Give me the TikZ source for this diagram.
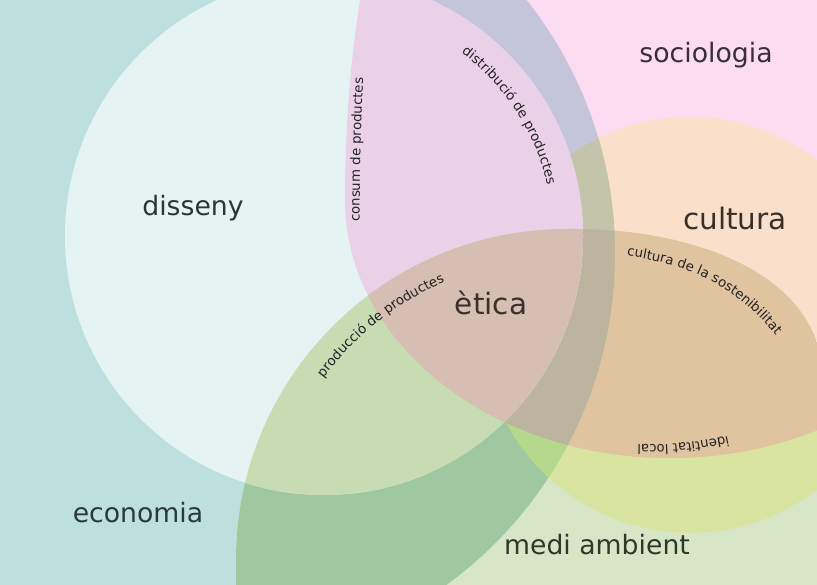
\documentclass[tikz,border=0pt]{standalone}
\usepackage{fontspec}
\setmainfont{DejaVu Sans}
\usetikzlibrary{decorations.text,calc}

% region colours (one per combination of overlapping areas)
\definecolor{cE}{HTML}{BDE0DF}
\definecolor{cS}{HTML}{FBDCF0}
\definecolor{cM}{HTML}{D8E6C8}
\definecolor{cC}{HTML}{FAE0C8}
\definecolor{cED}{HTML}{E5F4F3}
\definecolor{cES}{HTML}{C4C4DA}
\definecolor{cSC}{HTML}{FAE0CA}
\definecolor{cEM}{HTML}{A0C8A0}
\definecolor{cMC}{HTML}{D8E4A0}
\definecolor{cSM}{HTML}{E0C4A0}
\definecolor{cEC}{HTML}{B4D88C}
\definecolor{cEDS}{HTML}{EBD1E8}
\definecolor{cESC}{HTML}{C4C4AA}
\definecolor{cESM}{HTML}{C0B8A4}
\definecolor{cEDM}{HTML}{C8DCB4}
\definecolor{cSMC}{HTML}{E0C4A0}
\definecolor{cEMC}{HTML}{B4D88C}
\definecolor{cEDSM}{HTML}{D6BEB2}
\definecolor{cESMC}{HTML}{BCB49E}
% text colours
\definecolor{labE}{HTML}{2A3A3A}
\definecolor{labD}{HTML}{2D3636}
\definecolor{labS}{HTML}{3A2E38}
\definecolor{labC}{HTML}{3A3029}
\definecolor{labX}{HTML}{3A302C}
\definecolor{labM}{HTML}{2C3A2C}
\definecolor{smallcol}{HTML}{222222}

% the five overlapping areas
\newcommand\ShpE{(206,330) circle[radius=409]}
\newcommand\ShpD{(324,348) circle[radius=259]}
\newcommand\ShpC{(690,259) circle[radius=208]}
\newcommand\ShpS{(370,644) .. controls (352,544) and (345,474) .. (345,384)
  arc[start angle=180, end angle=360, x radius=325, y radius=258]
  -- (995,700) -- (370,700) -- cycle}
\newcommand\ShpM{(236,-100) -- (236,24) arc[start angle=180, end angle=90, radius=331]
  .. controls (680,356) and (790,320) .. (817,241)
  .. controls (835,190) and (850,130) .. (855,-100) -- cycle}

% fill the intersection of the clipped areas
\newcommand\paint[2]{\begin{scope}#1\fill[#2] (-10,-10) rectangle (830,600);\end{scope}}

\tikzset{
  mainlab/.style={font=\fontsize{26.7}{30}\selectfont, anchor=base, inner sep=0pt},
  biglab/.style={mainlab, font=\fontsize{29.5}{33}\selectfont},
  pathlab/.style={decorate, decoration={text along path, text align=center,
    text color=smallcol, text={#1}}}
}
\newcommand\sm{\fontsize{13.3}{15}\selectfont}

\begin{document}
\begin{tikzpicture}[x=1pt, y=1pt]
\useasboundingbox (0,0) rectangle (817,584);
\begin{scope}
\clip (0,0) rectangle (817,584);
\fill[cE] (0,0) rectangle (817,584);
% single areas
\paint{\clip\ShpE;}{cE}
\paint{\clip\ShpS;}{cS}
\paint{\clip\ShpM;}{cM}
\paint{\clip\ShpC;}{cC}
% pairs
\paint{\clip\ShpE;\clip\ShpS;}{cES}
\paint{\clip\ShpS;\clip\ShpC;}{cSC}
\paint{\clip\ShpE;\clip\ShpM;}{cEM}
\paint{\clip\ShpM;\clip\ShpC;}{cMC}
\paint{\clip\ShpS;\clip\ShpM;}{cSM}
\paint{\clip\ShpE;\clip\ShpC;}{cEC}
% triples
\paint{\clip\ShpE;\clip\ShpS;\clip\ShpC;}{cESC}
\paint{\clip\ShpE;\clip\ShpS;\clip\ShpM;}{cESM}
\paint{\clip\ShpS;\clip\ShpM;\clip\ShpC;}{cSMC}
\paint{\clip\ShpE;\clip\ShpM;\clip\ShpC;}{cEMC}
\paint{\clip\ShpE;\clip\ShpS;\clip\ShpM;\clip\ShpC;}{cESMC}
% the pale disc hides the orange one beneath the pink and green layers
\paint{\clip\ShpD;}{cED}
\paint{\clip\ShpD;\clip\ShpS;}{cEDS}
\paint{\clip\ShpD;\clip\ShpM;}{cEDM}
\paint{\clip\ShpD;\clip\ShpS;\clip\ShpM;}{cEDSM}
\end{scope}

% area names
\node[mainlab, text=labD] (disseny) at (193,368) {disseny};
\node[mainlab, text=labS] (sociologia) at (706,521) {sociologia};
\node[biglab, text=labC] (cultura) at (735,354) {cultura};
\node[biglab, text=labX] (etica) at (491,269) {ètica};
\node[mainlab, text=labE] (economia) at (138,61) {economia};
\node[mainlab, text=labM] (medi) at (597,29) {medi ambient};

% labels set along the edges of the areas
\path[pathlab={|\sm|consum de productes}]
  (360,314) .. controls (359,384) and (360,464) .. (366,554);
\path[pathlab={|\sm|distribució de productes}]
  ([shift={(56:229)}]324,348) arc[start angle=56, end angle=10, radius=229];
\path[pathlab={|\sm|producció de productes}]
  ([shift={(151:304)}]567,24) arc[start angle=151, end angle=106, radius=304];
\path[pathlab={|\sm|cultura de la sostenibilitat}]
  (610,330) .. controls (684,323) and (740,300) .. (786,235);
\path[pathlab={|\sm|identitat local}]
  (745,152) .. controls (700,140) and (660,138) .. (620,140);
\end{tikzpicture}
\end{document}
